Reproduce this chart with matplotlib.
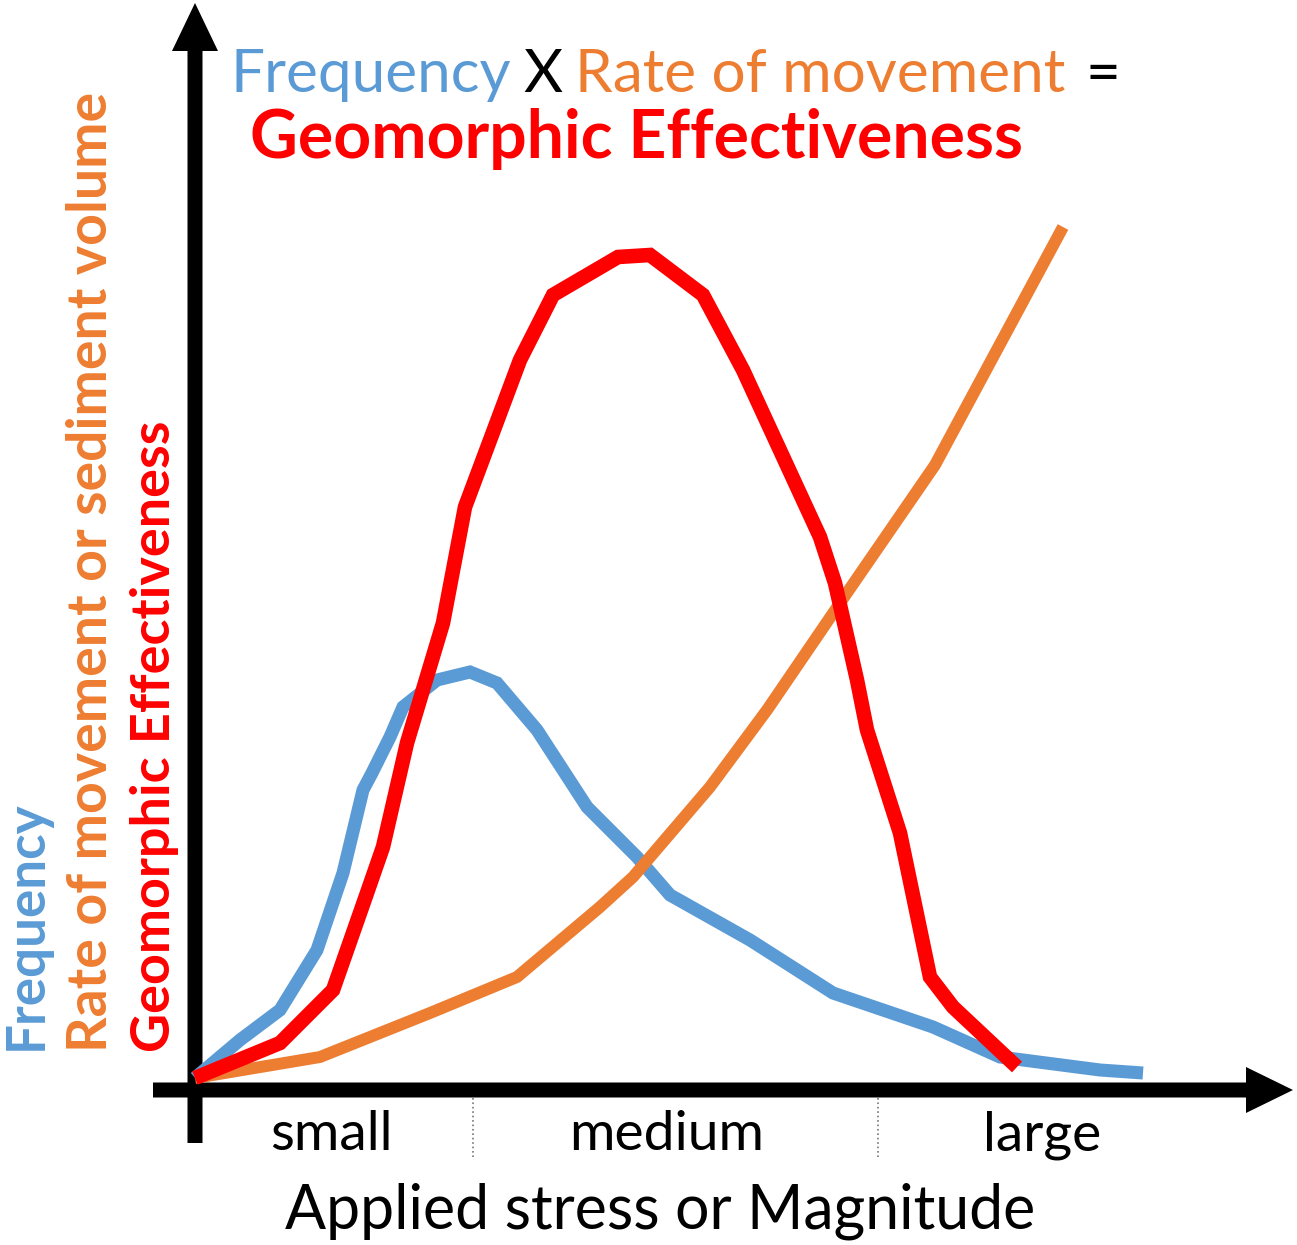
import matplotlib
matplotlib.use("Agg")
import matplotlib.pyplot as plt
from matplotlib.patches import FancyArrow

# ---------------- data ----------------
# x: applied stress / magnitude, y: value (arbitrary units, origin at axis corner)
freq_x = [0, 45, 85, 122, 148, 168, 177, 195, 208, 242, 275, 302, 342, 392, 442, 475, 555, 638, 738, 805, 905, 948]
freq_y = [0, 38, 68, 128, 205, 288, 305, 341, 371, 398, 406, 395, 348, 271, 221, 183, 138, 85, 51, 21, 8, 5]

rate_x = [0, 125, 235, 322, 405, 438, 515, 572, 645, 740, 868]
rate_y = [0, 21, 65, 101, 171, 201, 291, 368, 475, 613, 851]

geo_x = [0, 85, 138, 172, 188, 212, 248, 270, 325, 358, 423, 455, 508, 548, 625, 640, 662, 672, 705, 735, 758, 822]
geo_y = [0, 35, 88, 185, 231, 335, 455, 571, 718, 783, 821, 823, 783, 708, 541, 495, 398, 348, 245, 101, 71, 11]

categories = ["small", "medium", "large"]
category_x = [136, 472, 847]
category_bounds = [278, 683]

BLUE = "#5B9BD5"
ORANGE = "#ED7D31"
RED = "#FF0000"

plt.rcParams['font.family'] = ['Lato', 'DejaVu Sans']

fig = plt.figure(figsize=(12.97, 12.45), dpi=100)
ax = fig.add_axes([0, 0, 1, 1])
ax.set_xlim(-195, 1102)
ax.set_ylim(-167, 1078)
ax.axis('off')

# axes arrows
ax.add_patch(FancyArrow(0, -65, 0, 1140, width=15, head_width=46, head_length=48,
                        length_includes_head=True, color='black', lw=0, zorder=2))
ax.add_patch(FancyArrow(-42, -12, 1140, 0, width=15, head_width=46, head_length=47,
                        length_includes_head=True, color='black', lw=0, zorder=2))

# category separators
for b in category_bounds:
    ax.plot([b, b], [-20, -79], color='#777777', lw=1.2, ls=':', zorder=1)

# curves
ax.plot(freq_x, freq_y, color=BLUE, lw=9.4, solid_joinstyle='miter', solid_capstyle='butt', zorder=3)
ax.plot(rate_x, rate_y, color=ORANGE, lw=8.6, solid_joinstyle='miter', solid_capstyle='butt', zorder=4)
ax.plot(geo_x, geo_y, color=RED, lw=10.5, solid_joinstyle='miter', solid_capstyle='butt', zorder=5)

renderer = fig.canvas.get_renderer()


def fit(t, target, vertical=False):
    bb = t.get_window_extent(renderer)
    cur = bb.height if vertical else bb.width
    t.set_fontsize(t.get_fontsize() * target / cur)
    return t.get_fontsize()


# title
t1 = ax.text(35, 986, "Frequency", color=BLUE, fontsize=30, ha='left', va='baseline')
t2 = ax.text(380, 986, "Rate of movement", color=ORANGE, fontsize=30, ha='left', va='baseline')
s1 = fit(t1, 278)
s2 = fit(t2, 495)
s = (s1 + s2) / 2
t1.set_fontsize(s)
t2.set_fontsize(s)
ax.text(328, 986, "X", color='black', fontsize=s, ha='left', va='baseline')
ax.text(891, 986, "=", color='black', fontsize=s, ha='left', va='baseline')
t3 = ax.text(55, 920, "Geomorphic Effectiveness", color=RED, fontsize=30,
             fontweight='bold', ha='left', va='baseline')
fit(t3, 772)

# y labels
y1 = ax.text(-153, 28, "Frequency", color=BLUE, fontsize=30, fontweight='bold',
             rotation=90, rotation_mode='anchor', ha='left', va='baseline')
y2 = ax.text(-88, 26, "Rate of movement or sediment volume", color=ORANGE, fontsize=30,
             fontweight='bold', rotation=90, rotation_mode='anchor', ha='left', va='baseline')
y3 = ax.text(-25, 26, "Geomorphic Effectiveness", color=RED, fontsize=30, fontweight='bold',
             rotation=90, rotation_mode='anchor', ha='left', va='baseline')
fit(y1, 250, vertical=True)
fit(y2, 959, vertical=True)
fit(y3, 632, vertical=True)

# category labels
cats = [ax.text(x, -72, c, color='black', fontsize=30, ha='center', va='baseline')
        for x, c in zip(category_x, categories)]
cs = fit(cats[1], 195)
for c in cats:
    c.set_fontsize(cs)

xl = ax.text(465, -150, "Applied stress or Magnitude", color='black', fontsize=30,
             ha='center', va='baseline')
fit(xl, 750)

fig.savefig("out.png", dpi=100, facecolor='white')
